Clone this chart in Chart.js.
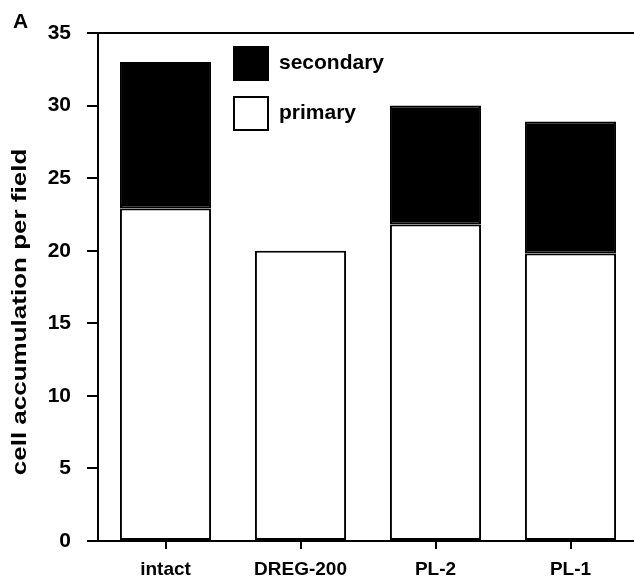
<!DOCTYPE html>
<html>
<head>
<meta charset="utf-8">
<script src="https://cdn.jsdelivr.net/npm/chart.js@4.4.0/dist/chart.umd.min.js"></script>
<style>
  html, body { margin: 0; padding: 0; background: #fff; overflow: hidden; }
  #wrap { width: 640px; height: 588px; }
</style>
</head>
<body>
<div id="wrap"><canvas id="chart" width="640" height="588"></canvas></div>
<script>
// data
const categories = ['intact', 'DREG-200', 'PL-2', 'PL-1'];
const primary = [22.9, 20.0, 21.8, 19.8];
const secondary = [10.1, 0, 8.2, 9.1];
const yTicks = [0, 5, 10, 15, 20, 25, 30, 35];
const yTitle = 'cell accumulation per field';
const panelLetter = 'A';

const FONT = '"Liberation Sans", Arial, Helvetica, sans-serif';

// legend inside the plot, panel letter and the (stretched) y title
const figureDecor = {
    id: 'figureDecor',
    afterDraw(chart) {
        const ctx = chart.ctx;
        ctx.save();
        ctx.fillStyle = '#000';
        ctx.font = 'bold 21px ' + FONT;
        ctx.textBaseline = 'middle';
        ctx.fillText(panelLetter, 13, 22);

        const items = [chart.data.datasets[1], chart.data.datasets[0]];
        items.forEach((ds, i) => {
            const y = 47 + i * 50;
            ctx.fillStyle = ds.backgroundColor;
            ctx.fillRect(234, y, 34, 33);
            ctx.lineWidth = 2;
            ctx.strokeStyle = '#000';
            ctx.strokeRect(234, y, 34, 33);
            ctx.fillStyle = '#000';
            ctx.font = 'bold 21px ' + FONT;
            ctx.fillText(ds.label, 279, y + 16);
        });

        // y axis title
        ctx.translate(20, 312);
        ctx.rotate(-Math.PI / 2);
        ctx.scale(1.3, 1);
        ctx.font = 'bold 20px ' + FONT;
        ctx.textAlign = 'center';
        ctx.fillText(yTitle, 0, 0);
        ctx.restore();
    }
};

new Chart(document.getElementById('chart'), {
    type: 'bar',
    data: {
        labels: categories,
        datasets: [
            { label: 'primary', data: primary, backgroundColor: '#ffffff', borderColor: '#000', borderWidth: 2, borderSkipped: false },
            { label: 'secondary', data: secondary, backgroundColor: '#000000', borderColor: '#000', borderWidth: 2, borderSkipped: false }
        ]
    },
    options: {
        responsive: false,
        animation: false,
        layout: { padding: { top: 33, right: 2 } },
        datasets: { bar: { categoryPercentage: 1, barPercentage: 0.675 } },
        plugins: { legend: { display: false }, tooltip: { enabled: false } },
        scales: {
            x: {
                stacked: true,
                grid: { drawOnChartArea: false, offset: false, color: '#000', lineWidth: 2, tickLength: 8 },
                border: { color: '#000', width: 2 },
                ticks: { color: '#000', padding: 9, font: { family: FONT, size: 19, weight: 'bold' } },
                afterFit(s) { s.height = 47; }
            },
            xTop: {
                position: 'top',
                grid: { display: false },
                border: { color: '#000', width: 2 },
                ticks: { display: false },
                afterFit(s) { s.height = 0; }
            },
            y: {
                stacked: true,
                min: 0,
                max: 35,
                afterBuildTicks(s) { s.ticks = yTicks.map(v => ({ value: v })); },
                grid: { drawOnChartArea: false, color: '#000', lineWidth: 2, tickLength: 11 },
                border: { color: '#000', width: 2 },
                ticks: { color: '#000', padding: 16, font: { family: FONT, size: 21, weight: 'bold' } },
                afterFit(s) { s.width = 98; }
            }
        }
    },
    plugins: [figureDecor]
});
</script>
</body>
</html>
